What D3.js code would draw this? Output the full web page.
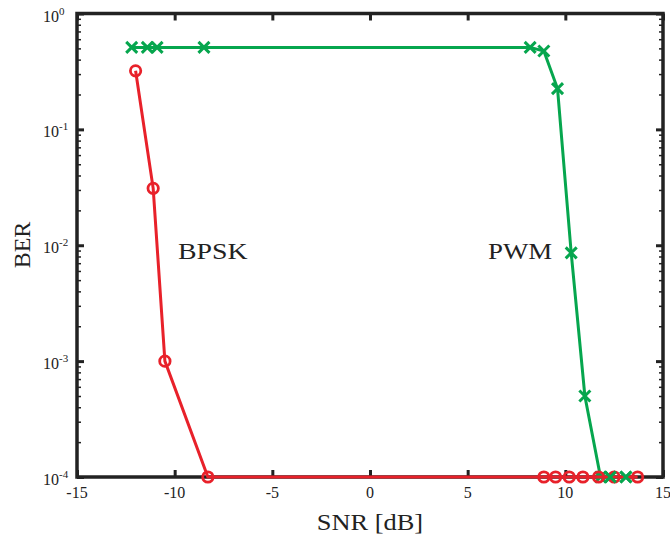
<!DOCTYPE html>
<html>
<head>
<meta charset="utf-8">
<script src="https://cdn.jsdelivr.net/npm/d3@7/dist/d3.min.js"></script>
<style>
  html, body { margin: 0; padding: 0; background: #fff; }
  svg { display: block; }
  text { font-family: "Liberation Serif", "Times New Roman", serif; fill: #222; }
</style>
</head>
<body>
<svg id="chart" width="670" height="536"></svg>
<script>
// BER vs SNR for two modulation schemes
const bpskSnr = [-12.0, -11.1, -10.5, -8.3, 8.9, 9.5, 10.2, 10.9, 11.7, 12.5, 13.7];
const bpskBer = [0.32, 0.031, 0.001, 1e-4, 1e-4, 1e-4, 1e-4, 1e-4, 1e-4, 1e-4, 1e-4];
const pwmSnr = [-12.2, -11.4, -10.9, -8.5, 8.2, 8.9, 9.6, 10.3, 11.0, 11.8, 12.3, 13.1];
const pwmBer = [0.51, 0.51, 0.51, 0.51, 0.51, 0.475, 0.225, 0.0086, 5.0e-4, 1e-4, 1e-4, 1e-4];
const xTicks = [-15, -10, -5, 0, 5, 10, 15];
const yExponents = [0, -1, -2, -3, -4];

const red = "#e8212a";
const green = "#06a64e";

const svg = d3.select("#chart");
const plotL = 77, plotR = 663, plotT = 13.5, plotB = 477;

const x = d3.scaleLinear().domain([-15, 15]).range([plotL, plotR]);
const y = d3.scaleLog().domain([1e-4, 1]).range([plotB, plotT]);

// minor ticks: 2..9 within each decade
const minorVals = [];
for (let e = -4; e < 0; e++) for (let m = 2; m <= 9; m++) minorVals.push(m * Math.pow(10, e));
const majorVals = yExponents.map(e => Math.pow(10, e));

const axisLayer = svg.append("g");

function styleTicks(g, w) {
  g.select(".domain").remove();
  g.selectAll("text").remove();
  g.selectAll("line").attr("stroke", "#222").attr("stroke-width", w);
}

// x ticks on bottom and top, pointing inward
axisLayer.append("g").attr("transform", `translate(0,${plotB})`)
  .call(d3.axisBottom(x).tickValues(xTicks).tickSize(-7))
  .call(g => styleTicks(g, 3));
axisLayer.append("g").attr("transform", `translate(0,${plotT})`)
  .call(d3.axisTop(x).tickValues(xTicks).tickSize(-7))
  .call(g => styleTicks(g, 3));

// y ticks on left and right, pointing inward
axisLayer.append("g").attr("transform", `translate(${plotL},0)`)
  .call(d3.axisLeft(y).tickValues(majorVals).tickSize(-7))
  .call(g => styleTicks(g, 3));
axisLayer.append("g").attr("transform", `translate(${plotL},0)`)
  .call(d3.axisLeft(y).tickValues(minorVals).tickSize(-4))
  .call(g => styleTicks(g, 1.5));
axisLayer.append("g").attr("transform", `translate(${plotR},0)`)
  .call(d3.axisRight(y).tickValues(majorVals).tickSize(-7))
  .call(g => styleTicks(g, 3));
axisLayer.append("g").attr("transform", `translate(${plotR},0)`)
  .call(d3.axisRight(y).tickValues(minorVals).tickSize(-4))
  .call(g => styleTicks(g, 1.5));

// frame
axisLayer.append("rect")
  .attr("x", plotL).attr("y", plotT)
  .attr("width", plotR - plotL).attr("height", plotB - plotT)
  .attr("fill", "none").attr("stroke", "#222").attr("stroke-width", 3.5);

// x tick labels
axisLayer.selectAll("text.xt").data(xTicks).join("text")
  .attr("class", "xt")
  .attr("x", d => x(d)).attr("y", 498)
  .attr("text-anchor", "middle").attr("font-size", 16)
  .text(d => d < 0 ? "-" + Math.abs(d) : String(d));

// y tick labels with superscript exponent
const yl = axisLayer.selectAll("text.yt").data(yExponents).join("text")
  .attr("class", "yt")
  .attr("x", 43).attr("y", d => y(Math.pow(10, d)) + 8)
  .attr("font-size", 16);
yl.append("tspan").text("10");
yl.append("tspan").attr("dy", -7).attr("font-size", 11)
  .text(d => d < 0 ? "-" + Math.abs(d) : String(d));

// axis titles (horizontal labels are set slightly wide)
svg.append("text").attr("transform", "translate(370,530) scale(1.1,1)")
  .attr("text-anchor", "middle").attr("font-size", 24).text("SNR [dB]");
svg.append("text").attr("transform", "translate(30,245) rotate(-90)")
  .attr("text-anchor", "middle").attr("font-size", 24).text("BER");

// series
const line = d3.line().x(d => x(d[0])).y(d => y(d[1]));
const pwm = pwmSnr.map((s, i) => [s, pwmBer[i]]);
const bpsk = bpskSnr.map((s, i) => [s, bpskBer[i]]);

const xs = 5.5;
const crossPath = d => {
  const cx = x(d[0]), cy = y(d[1]);
  return `M${cx - xs},${cy - xs}L${cx + xs},${cy + xs}M${cx - xs},${cy + xs}L${cx + xs},${cy - xs}`;
};

const data = svg.append("g");
data.append("path").datum(pwm).attr("d", line)
  .attr("fill", "none").attr("stroke", green).attr("stroke-width", 3);
data.selectAll("path.xm").data(pwm).join("path")
  .attr("class", "xm").attr("d", crossPath)
  .attr("stroke", green).attr("stroke-width", 3).attr("fill", "none");

data.append("path").datum(bpsk).attr("d", line)
  .attr("fill", "none").attr("stroke", red).attr("stroke-width", 3);
data.selectAll("circle").data(bpsk).join("circle")
  .attr("cx", d => x(d[0])).attr("cy", d => y(d[1])).attr("r", 5.2)
  .attr("fill", "none").attr("stroke", red).attr("stroke-width", 2.8);

// keep the later PWM crosses visible over the BPSK markers
data.selectAll("path.xm2").data(pwm.slice(-2)).join("path")
  .attr("class", "xm2").attr("d", crossPath)
  .attr("stroke", green).attr("stroke-width", 3).attr("fill", "none");

// series annotations
svg.append("text").attr("transform", "translate(178,259) scale(1.16,1)")
  .attr("font-size", 24).text("BPSK");
svg.append("text").attr("transform", "translate(488,259) scale(1.12,1)")
  .attr("font-size", 24).text("PWM");
</script>
</body>
</html>
